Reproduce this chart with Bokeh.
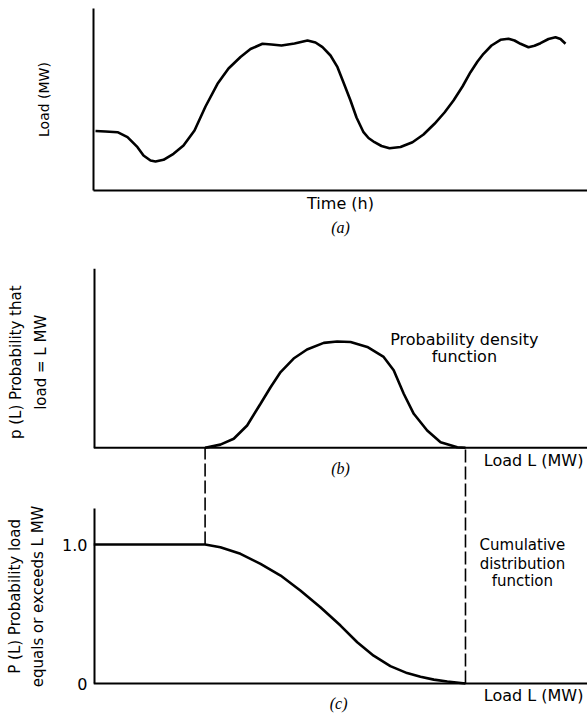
from bokeh.plotting import figure
from bokeh.models import Range1d, FixedTicker, Label, LinearAxis
from bokeh.layouts import column, row
from bokeh.embed import file_html
from bokeh.resources import INLINE
import math

# ---------------- data ----------------
# (a) daily load curve
time_h = [0.10, 0.60, 1.20, 1.70, 2.20, 2.50, 2.85, 3.10, 3.50, 4.00, 4.50, 5.05, 5.60, 6.20,
          6.75, 7.35, 7.85, 8.45, 8.90, 9.40, 10.05, 10.70, 11.10, 11.45, 11.85, 12.20, 12.50,
          12.85, 13.15, 13.50, 13.75, 14.05, 14.40, 14.80, 15.35, 15.95, 16.50, 17.05, 17.55,
          18.00, 18.45, 18.85, 19.20, 19.50, 19.90, 20.35, 20.75, 21.05, 21.35, 21.75, 22.05,
          22.35, 22.75, 23.10, 23.35, 23.60]
load_mw = [29.75, 29.5, 29.15, 26.65, 21.65, 17.5, 15.0, 14.5, 15.35, 18.35, 22.5, 30.0, 42.0,
           53.35, 61.0, 66.75, 70.75, 73.35, 73.0, 72.5, 73.5, 75.0, 74.0, 71.65, 67.5, 61.65,
           54.0, 45.0, 36.5, 29.15, 26.25, 24.15, 22.25, 21.15, 21.75, 24.15, 28.0, 33.35, 39.0,
           45.0, 52.0, 59.15, 64.5, 68.35, 72.5, 75.35, 75.85, 75.0, 73.35, 71.65, 72.35, 73.65,
           75.75, 76.65, 75.75, 73.35]

# (b) probability density function
pdf_L = [30.0, 34.1, 37.7, 41.3, 44.9, 47.6, 50.3, 53.8, 57.4, 61.9, 65.5, 69.1, 73.6, 78.0,
         80.7, 83.4, 86.1, 89.7, 93.3, 97.8, 100.0]
pdf_p = [0.0, 0.03, 0.085, 0.21, 0.415, 0.57, 0.713, 0.84, 0.925, 0.987, 1.0, 0.996, 0.949,
         0.855, 0.729, 0.509, 0.32, 0.163, 0.053, 0.006, 0.0]

# (c) probability that load equals or exceeds L
cdf_L = [0.0, 30.0, 34.1, 39.5, 44.9, 50.3, 55.6, 61.0, 66.4, 70.9, 75.3, 79.8, 84.3, 87.9,
         91.5, 95.1, 100.0]
cdf_P = [1.0, 1.0, 0.981, 0.933, 0.861, 0.777, 0.669, 0.549, 0.417, 0.297, 0.20, 0.125,
         0.075, 0.048, 0.028, 0.014, 0.0]

dash_L = [30.0, 100.0]          # support limits of the load distribution
tick_vals = [0, 1]
tick_labels = ["0", "1.0"]

FONT = "DejaVu Sans"
SERIF = "Liberation Serif"
W = 587


def clean(p):
    p.outline_line_color = None
    p.grid.visible = False
    p.background_fill_color = "white"
    p.border_fill_color = "white"


def bare_axis(ax):
    ax.ticker = FixedTicker(ticks=[])
    ax.axis_line_width = 2
    ax.axis_line_color = "black"
    ax.major_tick_out = 0
    ax.major_tick_in = 0
    ax.minor_tick_out = 0
    ax.minor_tick_in = 0
    ax.major_label_standoff = 0
    ax.axis_label_text_font = FONT
    ax.axis_label_text_font_style = "normal"
    ax.axis_label_text_color = "black"


# ---------------- (a) ----------------
pa = figure(width=W, height=240, output_backend="svg", toolbar_location=None,
            x_range=Range1d(0, 24.7), y_range=Range1d(0, 91),
            min_border_left=93, min_border_right=0, min_border_top=8, min_border_bottom=50)
clean(pa)
bare_axis(pa.xaxis[0])
bare_axis(pa.yaxis[0])
pa.yaxis.axis_label = "Load (MW)"
pa.yaxis.axis_label_text_font_size = "14px"
pa.yaxis.axis_label_standoff = 42
pa.xaxis.axis_label = "Time (h)"
pa.xaxis.axis_label_text_font_size = "16px"
pa.xaxis.axis_label_standoff = 3
cap_a = LinearAxis(axis_label="(a)")
bare_axis(cap_a)
cap_a.axis_line_color = None
cap_a.axis_label_text_font = SERIF
cap_a.axis_label_text_font_style = "italic"
cap_a.axis_label_text_font_size = "16px"
cap_a.axis_label_standoff = 3
pa.add_layout(cap_a, "below")
pa.line(time_h, load_mw, line_width=2.6, line_color="black")

# ---------------- (b) + (c) ----------------
P_start, P_end = -0.223, 2.986
pdf_start, pdf_end = -2.509, 1.687
LBL_W = 58
pb = figure(width=W - LBL_W, height=474, output_backend="svg", toolbar_location=None,
            x_range=Range1d(0, 132.8), y_range=Range1d(P_start, P_end),
            x_axis_location=None,
            min_border_left=93 - LBL_W, min_border_right=0, min_border_top=28,
            min_border_bottom=0)
pb.extra_y_ranges = {"pdf": Range1d(pdf_start, pdf_end)}
clean(pb)

ya = pb.yaxis[0]
ya.ticker = FixedTicker(ticks=tick_vals)
ya.major_label_overrides = {v: s for v, s in zip(tick_vals, tick_labels)}
ya.axis_line_color = None
ya.major_tick_line_color = None
ya.minor_tick_line_color = None
ya.major_tick_out = 0
ya.minor_tick_out = 0
ya.major_label_standoff = 6
ya.major_label_text_font = FONT
ya.major_label_text_font_size = "16px"
ya.major_label_text_color = "black"

x0 = pb.x_range.start
x1 = pb.x_range.end
c_top = 1.26
# vertical axes of (b) and (c), horizontal axes of (b) and (c)
pb.line([x0, x0], [0, pdf_end], y_range_name="pdf", line_width=4, line_color="black")
pb.line([x0, x0], [0, c_top], line_width=4, line_color="black")
pb.line([x0, x1], [0, 0], y_range_name="pdf", line_width=2, line_color="black")
pb.line([x0, x1], [0, 0], line_width=2, line_color="black")

# where pdf = 0 sits in P units
frac = (0 - pdf_start) / (pdf_end - pdf_start)
b_axis_P = P_start + frac * (P_end - P_start)

dash_from = [cdf_P[cdf_L.index(v)] for v in dash_L]
pb.segment(x0=dash_L, y0=dash_from, x1=dash_L, y1=[b_axis_P] * len(dash_L),
           line_dash="13 4", line_width=1.6, line_color="black")

pb.line(pdf_L, pdf_p, y_range_name="pdf", line_width=2.6, line_color="black")
pb.line(cdf_L, cdf_P, line_width=2.6, line_color="black")


def lab(fig, x, y, t, size="15px", align="center", font=FONT, style="normal", angle=0.0,
        lh=1.2):
    fig.add_layout(Label(x=x, y=y, text=t, text_align=align, text_baseline="middle",
                         text_font=font, text_font_style=style, text_font_size=size,
                         text_color="black", angle=angle, text_line_height=lh))


lab(pb, 99.7, 2.475, "Probability density", size="16px")
lab(pb, 99.7, 2.350, "function", size="16px")
lab(pb, 131.7, 1.604, "Load L (MW)", size="16px", align="right")
lab(pb, 66.4, 1.547, "(b)", size="16px", font=SERIF, style="italic")
lab(pb, 115.3, 0.993, "Cumulative")
lab(pb, 115.3, 0.863, "distribution")
lab(pb, 115.3, 0.741, "function")
lab(pb, 131.7, -0.086, "Load L (MW)", size="16px", align="right")
lab(pb, 65.9, -0.144, "(c)", size="16px", font=SERIF, style="italic")

# ---------------- rotated y-axis titles of (b) and (c) ----------------
pl = figure(width=LBL_W, height=474, output_backend="svg", toolbar_location=None,
            x_range=Range1d(-25.0, -9.41), y_range=Range1d(P_start, 3.187),
            x_axis_location=None, y_axis_location=None,
            min_border_left=0, min_border_right=0, min_border_top=0, min_border_bottom=0)
clean(pl)
lab(pl, -17.5, 2.47, "p (L) Probability that\nload = L MW", size="15px",
    angle=math.pi / 2, lh=1.35)
lab(pl, -18.0, 0.68, "P (L) Probability load\nequals or exceeds L MW", size="15px",
    angle=math.pi / 2, lh=1.25)

layout = column(pa, row(pl, pb, spacing=0), spacing=0)
open("out.html", "w").write(file_html(layout, INLINE))
